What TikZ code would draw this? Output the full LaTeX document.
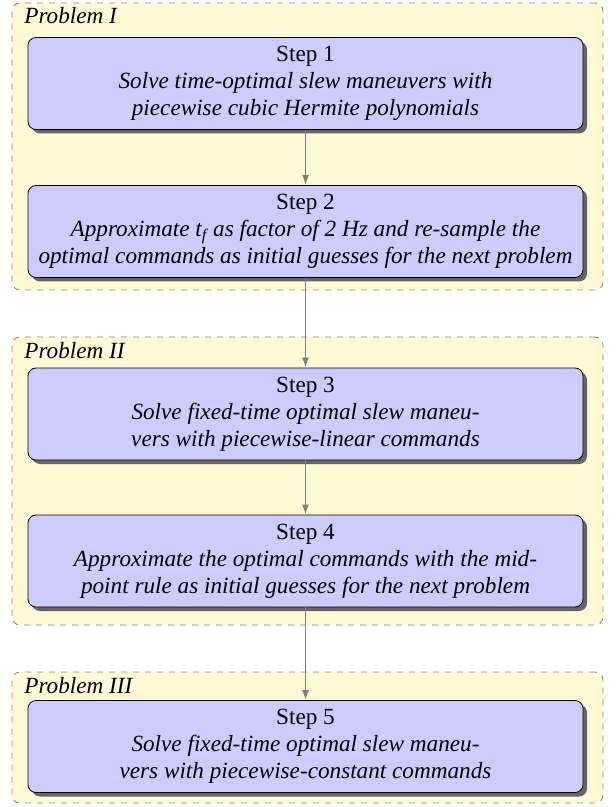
\documentclass[tikz,border=0pt]{standalone}
\usepackage{fontspec}
\setmainfont{Liberation Serif}
\usetikzlibrary{shadows,arrows.meta}
\definecolor{contfill}{RGB}{255,249,214}
\definecolor{boxfill}{RGB}{204,204,255}
\tikzset{
  container/.style={draw=gray, dashed, fill=contfill, rounded corners=4pt, minimum width=295.5pt, inner sep=0pt},
  stepbox/.style={draw=black, fill=boxfill, rounded corners=4pt, minimum width=277.5pt, minimum height=46pt, align=center, inner sep=0pt,
    drop shadow={shadow xshift=2pt, shadow yshift=-2pt, fill=gray!80!black, opacity=1},
    font=\fontsize{11.6}{13.5}\selectfont},
  problabel/.style={anchor=base west, font=\fontsize{11.6}{13.5}\selectfont\itshape, inner sep=0pt},
  flow/.style={draw=gray, line width=0.8pt, -{Latex[length=5pt,width=3.5pt]}}
}
\begin{document}
\begin{tikzpicture}[x=0.5pt,y=-0.5pt]
\useasboundingbox (0,0) rectangle (615,807);
\node[container, minimum height=143.5pt] (p1) at (307.5,146.5) {};
\node[container, minimum height=144pt] (p2) at (307.5,481) {};
\node[container, minimum height=65.5pt] (p3) at (307.5,737.5) {};
\node[problabel] (l1) at (24,24) {Problem I};
\node[problabel] (l2) at (24,358) {Problem II};
\node[problabel] (l3) at (24,693) {Problem III};
\node[stepbox] (s1) at (305.5,83.5) {Step 1\\\textit{Solve time-optimal slew maneuvers with}\\\textit{piecewise cubic Hermite polynomials}};
\node[stepbox] (s2) at (305.5,231.5) {Step 2\\\textit{Approximate $\mathit{t}_{\mathit{f}}$ as factor of 2 Hz and re-sample the}\\\textit{optimal commands as initial guesses for the next problem}};
\node[stepbox] (s3) at (305.5,414) {Step 3\\\textit{Solve fixed-time optimal slew maneu-}\\\textit{vers with piecewise-linear commands}};
\node[stepbox] (s4) at (305.5,561) {Step 4\\\textit{Approximate the optimal commands with the mid-}\\\textit{point rule as initial guesses for the next problem}};
\node[stepbox] (s5) at (305.5,746.5) {Step 5\\\textit{Solve fixed-time optimal slew maneu-}\\\textit{vers with piecewise-constant commands}};
\draw[flow] (s1) -- (s2);
\draw[flow] (s2) -- (s3);
\draw[flow] (s3) -- (s4);
\draw[flow] (s4) -- (s5);
\end{tikzpicture}
\end{document}
